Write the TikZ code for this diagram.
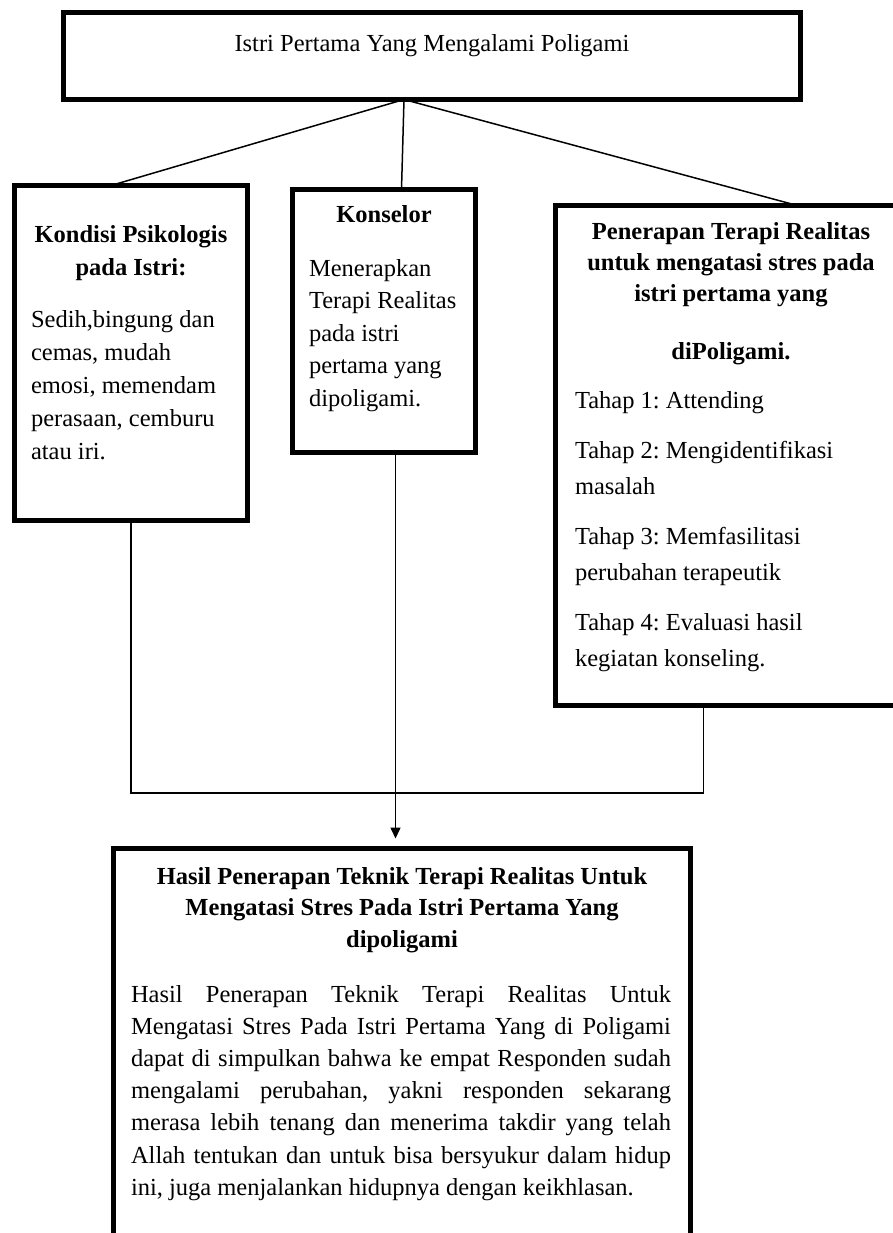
\documentclass[tikz,border=0pt]{standalone}
\usepackage{fontspec}
\setmainfont{Liberation Serif}
\frenchspacing
\usetikzlibrary{arrows.meta}
\begin{document}
\begin{tikzpicture}[x=1pt,y=-1pt,
  box/.style={draw=black, line width=5.5pt, inner sep=0pt, outer sep=0pt},
  link/.style={draw=black, line width=1.5pt},
  arrowlink/.style={link, -{Triangle[width=10pt,length=11pt]}, shorten >=10pt},
  plain/.style={inner sep=0pt, outer sep=0pt, font=\fontsize{24.5}{33}\selectfont},
  head/.style={plain, font=\fontsize{24.5}{33}\selectfont\bfseries, align=center, anchor=north},
  body/.style={plain, align=left, anchor=north west}]
\useasboundingbox (0,0) rectangle (893,1233);
\fill[white] (0,0) rectangle (893,1233);

% boxes
\node[box, minimum width=737pt, minimum height=87pt] (top) at (432,56) {};
\node[box, minimum width=233pt, minimum height=335pt] (kondisi) at (131,353) {};
\node[box, minimum width=183pt, minimum height=263pt] (konselor) at (384,321) {};
\node[box, minimum width=349.5pt, minimum height=500pt] (penerapan) at (730.25,455.5) {};
\node[box, minimum width=577pt, minimum height=413.5pt] (hasil) at (402,1055.25) {};

% texts
\node[plain, anchor=base] (toptxt) at (432,52) {Istri Pertama Yang Mengalami Poligami};

\node[head] (kondisihead) at (131,226) {Kondisi Psikologis\\pada Istri:};
\node[body] (kondisibody) at (31,310) {Sedih,bingung dan\\cemas, mudah\\emosi, memendam\\perasaan, cemburu\\atau iri.};

\node[plain, font=\fontsize{24.5}{33}\selectfont\bfseries, anchor=base] (konselorhead) at (384,223) {Konselor};
\node[body, font=\fontsize{24.5}{32.5}\selectfont] (konselorbody) at (309,259) {Menerapkan\\Terapi Realitas\\pada istri\\pertama yang\\dipoligami.};

\node[head, font=\fontsize{24.5}{31}\selectfont\bfseries] (penerapanhead) at (731,222) {Penerapan Terapi Realitas\\untuk mengatasi stres pada\\istri pertama yang\\[27pt]diPoligami.};
\node[body, font=\fontsize{24.5}{36}\selectfont] (tahap) at (575,391) {Tahap 1: Attending\\[14pt]Tahap 2: Mengidentifikasi\\masalah\\[14pt]Tahap 3: Memfasilitasi\\perubahan terapeutik\\[14pt]Tahap 4: Evaluasi hasil\\kegiatan konseling.};

\node[head, font=\fontsize{24.5}{31.5}\selectfont\bfseries] (hasilhead) at (402,867) {Hasil Penerapan Teknik Terapi Realitas Untuk\\Mengatasi Stres Pada Istri Pertama Yang\\dipoligami};
\node[plain, font=\fontsize{24.5}{32.2}\selectfont, anchor=north west, text width=540pt, align=justify] (hasilbody) at (131,985) {\tolerance=10000\hbadness=10000 Hasil Penerapan Teknik Terapi Realitas Untuk\linebreak Mengatasi Stres Pada Istri Pertama Yang di Poligami\linebreak dapat di simpulkan bahwa ke empat Responden sudah\linebreak mengalami perubahan, yakni responden sekarang\linebreak merasa lebih tenang dan menerima takdir yang telah\linebreak Allah tentukan dan untuk bisa bersyukur dalam hidup\linebreak ini, juga menjalankan hidupnya dengan keikhlasan.};

% connectors
\coordinate (tj) at ([xshift=-28pt]top.south);
\draw[link] (tj) -- ([xshift=-20pt]kondisi.north);
\draw[link] (tj) -- ([xshift=17.5pt]konselor.north);
\draw[link] (tj) -- ([xshift=67pt]penerapan.north);

\coordinate (hl) at (0,793);
\coordinate (pb) at ([xshift=-27pt]penerapan.south);
\draw[link] (kondisi.south) -- (kondisi.south |- hl) -| (pb);
\coordinate (kb) at ([xshift=11.5pt]konselor.south);
\draw[arrowlink] (kb) -- (kb |- hasil.north);
\end{tikzpicture}
\end{document}
